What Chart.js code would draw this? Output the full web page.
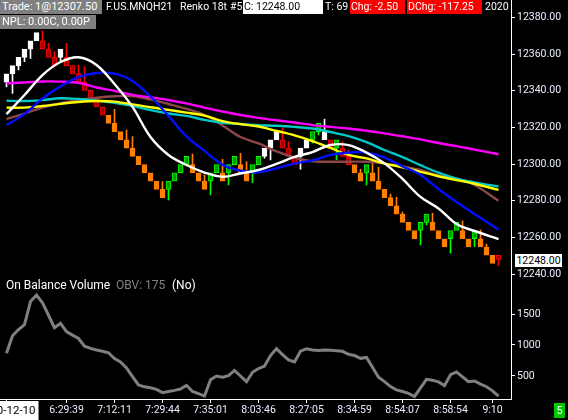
<!DOCTYPE html>
<html><head><meta charset="utf-8">
<script src="https://cdn.jsdelivr.net/npm/chart.js@4/dist/chart.umd.min.js"></script>
<style>
html,body{margin:0;padding:0;background:#000;overflow:hidden}
#wrap{position:relative;width:568px;height:420px;background:#000}
canvas{position:absolute;left:0;top:0}
.t{position:absolute;font-family:Roboto,sans-serif;font-size:10.5px;line-height:14px;height:14px;white-space:nowrap;overflow:hidden;color:#fff}
</style></head><body>
<div id="wrap"><canvas id="c" width="568" height="420"></canvas>
<div class="t" style="left:0;top:0;width:100px;background:#808080;padding-left:2px;font-size:11px;">Trade: 1@12307.50</div>
<div class="t" style="left:106px;top:0;width:72px;">F.US.MNQH21</div>
<div class="t" style="left:180px;top:0;width:50px;">Renko 18t</div>
<div class="t" style="left:230px;top:0;width:13px;">#5</div>
<div class="t" style="left:243px;top:0;width:79px;background:#fff;color:#000;padding-left:1px;">C: 12248.00</div>
<div class="t" style="left:325px;top:0;width:25px;">T: 69</div>
<div class="t" style="left:350px;top:0;width:54px;background:#ff0000;padding-left:1px;">Chg: -2.50</div>
<div class="t" style="left:407px;top:0;width:74px;background:#ff0000;padding-left:1px;">DChg: -117.25</div>
<div class="t" style="left:485px;top:0;width:25px;">2020</div>
<div class="t" style="left:0;top:15px;width:94px;background:#808080;padding-left:2px;font-size:11px;">NPL: 0.00C, 0.00P</div>
<div class="t" style="left:6px;top:278px;font-size:12px;">On Balance Volume</div>
<div class="t" style="left:116px;top:278px;font-size:12px;color:#808080;">OBV: 175</div>
<div class="t" style="left:172px;top:278px;font-size:12px;">(No)</div>
<div class="t" style="left:512px;top:277px;width:56px;height:5px;background:#000;"></div>
<div class="t" style="left:515px;top:254px;width:47px;height:13px;line-height:13px;background:#fff;color:#000;text-align:center;">12248.00</div>
<div class="t" style="left:554px;top:403px;width:11px;height:15px;line-height:15px;background:#00c800;text-align:center;font-size:11px;">5</div>
</div>
<script>
// ---- Renko bricks (index 0..82) ----
const brickOpen = [
12344.75,12349.25,12353.75,12358.25,12362.75,12367.25,12367.25,12362.75,12358.25,12358.25,
12358.25,12353.75,12349.25,12344.75,12340.25,12335.75,12331.25,12326.75,12322.25,12317.75,
12313.25,12308.75,12304.25,12299.75,12295.25,12290.75,12286.25,12286.25,12290.75,12295.25,
12299.75,12299.75,12295.25,12290.75,12290.75,12295.25,12295.25,12295.25,12299.75,12299.75,
12295.25,12295.25,12299.75,12304.25,12308.75,12313.25,12313.25,12308.75,12304.25,12304.25,
12308.75,12313.25,12317.75,12317.75,12313.25,12308.75,12308.75,12304.25,12299.75,12295.25,
12295.25,12295.25,12290.75,12286.25,12281.75,12277.25,12272.75,12268.25,12263.75,12263.75,
12268.25,12268.25,12263.75,12259.25,12259.25,12263.75,12263.75,12259.25,12259.25,12259.25,
12254.75,12250.25,12250.25];
const brickClose = [
12349.25,12353.75,12358.25,12362.75,12367.25,12371.75,12362.75,12358.25,12353.75,12362.75,
12353.75,12349.25,12344.75,12340.25,12335.75,12331.25,12326.75,12322.25,12317.75,12313.25,
12308.75,12304.25,12299.75,12295.25,12290.75,12286.25,12281.75,12290.75,12295.25,12299.75,
12304.25,12295.25,12290.75,12286.25,12295.25,12299.75,12290.75,12299.75,12304.25,12295.25,
12290.75,12299.75,12304.25,12308.75,12313.25,12317.75,12308.75,12304.25,12299.75,12308.75,
12313.25,12317.75,12322.25,12313.25,12308.75,12313.25,12304.25,12299.75,12295.25,12290.75,
12299.75,12290.75,12286.25,12281.75,12277.25,12272.75,12268.25,12263.75,12259.25,12268.25,
12272.75,12263.75,12259.25,12254.75,12263.75,12268.25,12259.25,12254.75,12263.75,12254.75,
12250.25,12245.75,12248.00];
const brickKind = ('WWWWWW'+'RRR'+'W'+'RRRRRRR'+'OOOOOOOOOO'+'GGGG'+'OOO'+'GG'+'O'+'GG'+'OO'+'GG'+
  'WWW'+'RRR'+'WW'+'GG'+'W'+'R'+'G'+'RR'+'OO'+'G'+'OOOOOOOO'+'GG'+'OOO'+'GG'+'OO'+'G'+'OOO'+'R').split('');
const wickEnd = [
12342.2,12338.6,12351.4,12355.9,12357.7,null,12372.6,12365.9,12361.3,12356.3,
12365.9,null,12354.1,12353.2,null,null,null,null,12329.9,null,
12318.6,12315.0,null,null,null,null,12290.4,12280.4,null,null,
null,12305.5,null,12294.1,12283.2,null,12302.6,12288.6,null,12305.9,
12301.3,12289.9,null,12303.2,12302.3,null,12319.7,12312.2,null,12297.2,
null,12311.5,12315.9,12324.5,null,12302.3,12312.2,12307.7,null,12297.2,
12288.6,12302.3,12298.3,null,12283.7,12281.9,12273.9,null,null,12255.9,
12266.8,12273.2,null,null,12251.4,null,12269.0,null,12255.0,12264.1,
12256.4,null,12244.6];

// ---- moving averages, sampled at brick indices ----
const maIdx = [0,3,6,9,12,15,18,21,24,27,30,33,36,39,42,45,48,51,54,57,60,63,66,69,72,75,78,82];
const maWhite = [12327.3,12337.7,12348.6,12355.7,12358.3,12354.1,12343.7,12331.2,12314.8,12305.0,12299.5,12295.4,12293.1,12294.9,12296.8,12300.1,12303.9,12306.6,12310.4,12310.4,12306.3,12300.4,12291.9,12282.1,12275.8,12267.3,12263.5,12259.1];
const maBlue = [12321.3,12327.3,12335.8,12342.4,12347.4,12349.7,12349.4,12345.4,12336.9,12326.3,12315.1,12307.2,12299.7,12296.4,12295.5,12297.7,12300.3,12302.0,12305.0,12306.3,12306.3,12303.6,12298.8,12294.1,12286.4,12279.3,12272.8,12264.3];
const maMagenta = [12344.1,12344.5,12345.1,12345.0,12344.3,12341.8,12340.0,12337.8,12336.5,12335.0,12333.1,12330.8,12328.7,12326.8,12325.2,12323.9,12322.7,12321.3,12320.3,12319.4,12318.2,12316.8,12315.2,12313.5,12311.5,12309.8,12307.9,12305.4];
const maCyan = [12334.6,12334.4,12334.9,12335.9,12335.5,12334.6,12333.5,12331.8,12329.5,12327.6,12326.3,12324.1,12322.5,12321.9,12321.3,12320.9,12320.3,12319.4,12317.5,12315.3,12312.0,12307.7,12303.8,12299.4,12295.3,12292.0,12290.0,12287.8];
const maYellow = [12330.8,12330.8,12331.7,12332.9,12333.9,12334.4,12334.1,12332.6,12331.0,12329.6,12328.1,12326.5,12323.5,12321.8,12320.5,12318.1,12315.7,12312.6,12308.8,12305.0,12303.1,12300.3,12298.3,12295.8,12293.4,12291.3,12289.3,12285.9];
const maBrown = [12324.6,12327.6,12330.9,12333.2,12334.9,12336.2,12337.0,12337.1,12335.3,12332.8,12330.1,12326.8,12321.1,12314.8,12311.3,12306.9,12303.6,12301.5,12301.3,12301.3,12301.3,12300.4,12298.7,12296.8,12293.8,12292.2,12288.6,12280.0];

// ---- On Balance Volume per brick ----
const obv = [866,1150,1250,1330,1700,1806,1680,1480,1280,1350,
1215,1160,1105,980,945,920,900,875,780,725,
630,490,355,325,310,285,232,250,268,290,
350,250,215,177,440,500,480,505,590,500,
408,560,620,660,830,940,845,760,726,900,
940,920,910,918,915,908,898,850,830,785,
800,640,479,410,330,275,250,220,170,310,
447,430,405,345,520,565,485,408,420,370,
327,260,175];

// ---- axis ticks ----
const priceTicks = [12240,12260,12280,12300,12320,12340,12360,12380];
const obvTicks = [500,1000,1500];
const tickIdx = [0,10,18,26,34,42,50,58,66,74,81];
const tickLabels = ['2020-12-10','6:29:39','7:12:11','7:29:44','7:35:01','8:03:46','8:27:05','8:34:59','8:54:07','8:58:54','9:10'];

const FILL = {W:'#ffffff', R:'#a00000', O:'#ff8000', G:'#009a00'};
const EDGE = {W:'#ffffff', R:'#ff0000', O:'#ff8000', G:'#00ff00'};
const WICK = {W:'#ffffff', R:'#ff0000', O:'#ff8000', G:'#00ff00'};

const bodies = brickOpen.map((o,i)=>({x:i, y:[o, brickClose[i]]}));
const wicks = [];
wickEnd.forEach((w,i)=>{ if (w!==null) wicks.push({x:i, y:[w, (brickOpen[i]+brickClose[i])/2]}); });
const ma = arr => maIdx.map((x,k)=>({x:x, y:arr[k]}));
const lineDs = (arr, color, order) => ({type:'line', data:ma(arr), borderColor:color, borderWidth:2.4,
  pointRadius:0, tension:0.35, yAxisID:'y', xAxisID:'x', order:order, fill:false});

Chart.defaults.font.family = 'Roboto, sans-serif';
new Chart(document.getElementById('c'), {
  type:'bar',
  data:{datasets:[
    lineDs(maWhite,'#ffffff',0),
    lineDs(maBlue,'#0010ff',1),
    lineDs(maYellow,'#ffff00',2),
    lineDs(maCyan,'#00c8c8',3),
    lineDs(maMagenta,'#ff00ff',4),
    lineDs(maBrown,'#8c4848',5),
    {type:'line', data:obv.map((v,i)=>({x:i,y:v})), borderColor:'#808080', borderWidth:3, pointRadius:0,
      tension:0, yAxisID:'yObv', xAxisID:'x', order:0},
    {type:'bar', data:bodies, grouped:false, barThickness:5, borderWidth:1, borderSkipped:false,
      backgroundColor:c=>FILL[brickKind[c.raw.x]], borderColor:c=>EDGE[brickKind[c.raw.x]],
      yAxisID:'y', xAxisID:'x', order:10},
    {type:'bar', data:wicks, grouped:false, barThickness:1, borderWidth:0,
      backgroundColor:c=>WICK[brickKind[c.raw.x]], yAxisID:'y', xAxisID:'x', order:11}
  ]},
  options:{
    responsive:false, animation:false, events:[],
    layout:{padding:0},
    plugins:{legend:{display:false}, tooltip:{enabled:false}},
    scales:{
      x:{type:'linear', min:-1.083, max:84.08, offset:false, bounds:'data',
        grid:{display:true, drawOnChartArea:false, drawTicks:true, tickLength:4, color:'#ffffff', offset:false},
        border:{display:true, color:'#ffffff', width:1},
        afterBuildTicks:s=>{ s.ticks = tickIdx.map(v=>({value:v})); },
        afterFit:s=>{ s.height = 21; s.paddingLeft = 0; s.paddingRight = 0; },
        ticks:{autoSkip:false, maxRotation:0, minRotation:0, padding:1,
          font:c=>({size: c.index===0 ? 11.5 : 10.5}),
          color:c=>c.index===0?'#000000':'#e8eeff',
          showLabelBackdrop:c=>c.index===0, backdropColor:'#ffffff',
          backdropPadding:{top:3,bottom:5,left:2,right:3},
          callback:(v,i)=>tickLabels[i]}
      },
      y:{type:'linear', position:'right', stack:'p', stackWeight:277, min:12238.4, max:12389.55, bounds:'data',
        grid:{drawOnChartArea:false, drawTicks:true, tickLength:4, color:'#ffffff'},
        border:{display:true, color:'#ffffff', width:1},
        afterBuildTicks:s=>{ s.ticks = priceTicks.map(v=>({value:v})); },
        afterFit:s=>{ s.width = 57; s.paddingTop = 0; s.paddingBottom = 0; },
        ticks:{padding:2, color:'#e8eeff', font:{size:10.5}, callback:v=>Number(v).toFixed(2)}
      },
      yObv:{type:'linear', position:'right', stack:'p', stackWeight:122, min:129, max:2096.8, bounds:'data',
        grid:{drawOnChartArea:false, drawTicks:true, tickLength:4, color:'#ffffff'},
        border:{display:true, color:'#ffffff', width:1},
        afterBuildTicks:s=>{ s.ticks = obvTicks.map(v=>({value:v})); },
        afterFit:s=>{ s.width = 57; s.paddingTop = 0; s.paddingBottom = 0; },
        ticks:{padding:2, color:'#e8eeff', font:{size:10.5}, callback:v=>String(v)}
      }
    }
  }
});
</script>
</body></html>
